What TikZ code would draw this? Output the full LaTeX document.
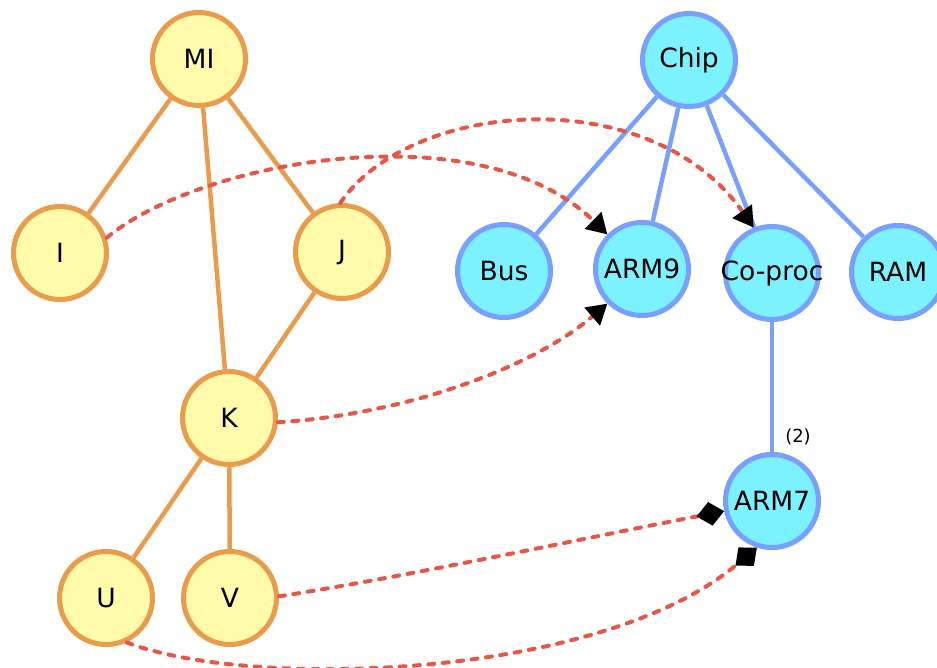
\documentclass[tikz,border=0pt]{standalone}
\usepackage{fontspec}
\setmainfont{DejaVu Sans}
\usetikzlibrary{arrows.meta}
\definecolor{softyellow}{RGB}{255,251,170}
\definecolor{amber}{RGB}{232,156,76}
\definecolor{skycyan}{RGB}{124,242,255}
\definecolor{periwinkle}{RGB}{122,160,255}
\definecolor{coral}{RGB}{232,86,72}
\tikzset{
  vertex/.style={circle, minimum size=93pt, inner sep=0pt, line width=5pt,
    font=\fontsize{26.5}{30}\selectfont},
  warm/.style={vertex, draw=amber, fill=softyellow},
  cool/.style={vertex, draw=periwinkle, fill=skycyan},
  warmedge/.style={draw=amber, line width=4.5pt},
  cooledge/.style={draw=periwinkle, line width=4.5pt},
  link/.style={draw=coral, line width=4pt, line cap=round, dash pattern=on 6pt off 8.5pt},
  tri/.style={-{Triangle[length=20pt,width=23pt,color=black,line cap=butt,line join=miter]}},
  dia/.style={-{Diamond[length=28pt,width=24pt,color=black,line cap=butt,line join=miter]}},
}
\begin{document}
\begin{tikzpicture}[x=1pt,y=-1pt]
\useasboundingbox (0,0) rectangle (937,668);
% left hierarchy
\node[warm] (MI) at (199,59) {MI};
\node[warm] (I) at (60,253) {I};
\node[warm] (J) at (342,252) {J};
\node[warm] (K) at (229,418) {K};
\node[warm] (U) at (106,598) {U};
\node[warm] (V) at (230,598) {V};
% right hierarchy
\node[cool] (Chip) at (689,60) {Chip};
\node[cool] (Bus) at (504,271) {Bus};
\node[cool] (ARM9) at (642,269) {ARM9};
% the label is wider than the circle and spills over its rim
\node[cool] (Coproc) at (772,273) {\makebox[0pt]{Co-proc}};
\node[cool] (RAM) at (898,272) {RAM};
\node[cool] (ARM7) at (772,501) {ARM7};
\node[font=\fontsize{18}{20}\selectfont] (mult) at (798,437) {(2)};
% tree edges
\draw[warmedge] (MI) -- (I);
\draw[warmedge] (MI) -- (K);
\draw[warmedge] (MI) -- (J);
\draw[warmedge] (J) -- (K);
\draw[warmedge] (K) -- (U);
\draw[warmedge] (K) -- (V);
\draw[cooledge] (Chip) -- (Bus);
\draw[cooledge] (Chip) -- (ARM9);
\draw[cooledge] (Chip) -- (Coproc);
\draw[cooledge] (Chip) -- (RAM);
\draw[cooledge] (Coproc) -- (ARM7);
% cross links
\draw[link, tri] (I.18) .. controls (200,160) and (480,110) .. (ARM9.135);
\draw[link, tri] (J.92) .. controls (410,100) and (650,80) .. (Coproc.112);
\draw[link, tri] (K.-5) .. controls (400,415) and (530,370) .. (ARM9.225);
\draw[link, dia] (V.2) .. controls (400,578) and (600,535) .. (ARM7.192);
\draw[link, dia] (U.-65) .. controls (250,690) and (600,680) .. (ARM7.-108);
\end{tikzpicture}
\end{document}
